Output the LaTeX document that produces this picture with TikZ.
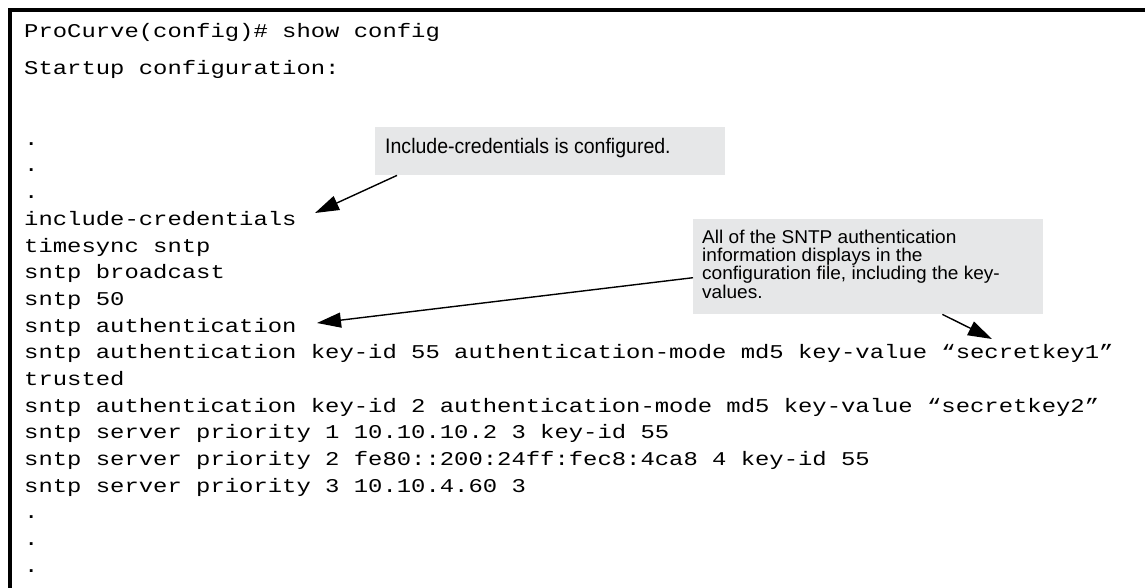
\documentclass[tikz,border=0pt]{standalone}
\usepackage{fontspec}
\setmainfont{Liberation Sans}
\newfontfamily\codefont[FakeStretch=1.225]{Liberation Mono}
\newfontfamily\calloutfonta[FakeStretch=0.93]{Liberation Sans}
\newfontfamily\calloutfontb[FakeStretch=1.03]{Liberation Sans}
\usetikzlibrary{arrows.meta}
\definecolor{calloutgray}{HTML}{E6E7E8}
\tikzset{
  codeline/.style={anchor=base west, inner sep=0pt, font=\codefont\fontsize{19.5}{19.5}\selectfont},
  calloutbox/.style={fill=calloutgray, draw=none, inner sep=0pt, anchor=north west},
  callouttext/.style={anchor=base west, inner sep=0pt, align=left},
  pointer/.style={line width=1.4pt, -{Triangle[length=24pt,width=15pt]}},
  frameline/.style={line width=3.2pt},
}
\begin{document}
\begin{tikzpicture}[x=1pt,y=-1pt]
\useasboundingbox (0,0) rectangle (1145,588);
% frame (only top and left edges visible)
\draw[frameline] (10,588) -- (10,10) -- (1145,10);
% code lines
\node[codeline] (l1)  at (24,38)  {ProCurve(config)\# show config};
\node[codeline] (l2)  at (24,75)  {Startup configuration:};
\node[codeline] (d1)  at (24,146) {.};
\node[codeline] (d2)  at (24,172) {.};
\node[codeline] (d3)  at (24,198) {.};
\node[codeline] (l3)  at (24,225) {include-credentials};
\node[codeline] (l4)  at (24,252) {timesync sntp};
\node[codeline] (l5)  at (24,278) {sntp broadcast};
\node[codeline] (l6)  at (24,305) {sntp 50};
\node[codeline] (l7)  at (24,332) {sntp authentication};
\node[codeline] (l8)  at (24,358) {sntp authentication key-id 55 authentication-mode md5 key-value “secretkey1”};
\node[codeline] (l9)  at (24,385) {trusted};
\node[codeline] (l10) at (24,412) {sntp authentication key-id 2 authentication-mode md5 key-value “secretkey2”};
\node[codeline] (l11) at (24,438) {sntp server priority 1 10.10.10.2 3 key-id 55};
\node[codeline] (l12) at (24,465) {sntp server priority 2 fe80::200:24ff:fec8:4ca8 4 key-id 55};
\node[codeline] (l13) at (24,492) {sntp server priority 3 10.10.4.60 3};
\node[codeline] (d4)  at (24,518) {.};
\node[codeline] (d5)  at (24,545) {.};
\node[codeline] (d6)  at (24,572) {.};
% callout 1
\node[calloutbox, minimum width=350pt, minimum height=48pt] (box1) at (375,127) {};
\node[callouttext, font=\calloutfonta\fontsize{21}{21}\selectfont] (t1) at (385,153.3) {Include-credentials is configured.};
% callout 2 (base anchor of a multi-line node is the last line's baseline)
\node[calloutbox, minimum width=350pt, minimum height=95pt] (box2) at (693,219) {};
\node[callouttext, font=\calloutfontb\fontsize{18.5}{18.3}\selectfont] (t2) at (702,298.2)
  {All of the SNTP authentication\\information displays in the\\configuration file, including the key-\\values.};
% pointers
\coordinate (tip1) at (315,213);
\coordinate (tip2) at (317,323);
\coordinate (tip3) at (992,339);
\draw[pointer] ([xshift=22pt]box1.south west) -- (tip1);
\draw[pointer] ([yshift=-11pt]box2.west) -- (tip2);
\draw[pointer] ([xshift=-101pt]box2.south east) -- (tip3);
\end{tikzpicture}
\end{document}
